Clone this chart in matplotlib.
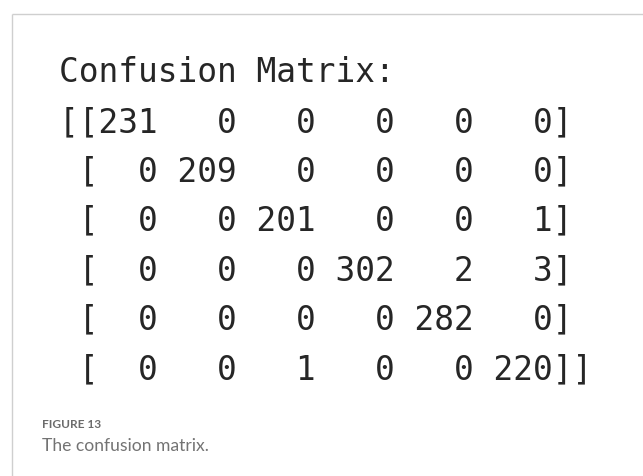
import numpy as np
import matplotlib
matplotlib.use("Agg")
import matplotlib.pyplot as plt

# Confusion matrix values (rows = true class, cols = predicted class)
cm = np.array([
    [231, 0, 0, 0, 0, 0],
    [0, 209, 0, 0, 0, 0],
    [0, 0, 201, 0, 0, 1],
    [0, 0, 0, 302, 2, 3],
    [0, 0, 0, 0, 282, 0],
    [0, 0, 1, 0, 0, 220],
])
heading = "Confusion Matrix:"
fig_label = "FIGURE 13"
caption = "The confusion matrix."

fig = plt.figure(figsize=(6.43, 4.76), dpi=100)
ax = fig.add_axes([0, 0, 1, 1])
ax.set_xlim(0, 643)
ax.set_ylim(476, 0)
ax.axis("off")

# light frame on top and left
ax.plot([11.5, 643], [14, 14], color="#cfcfcf", lw=1.0, solid_capstyle="butt")
ax.plot([11.5, 11.5], [14, 476], color="#cfcfcf", lw=1.0, solid_capstyle="butt")

mono = dict(family="DejaVu Sans Mono", fontsize=23.6, color="#262626", va="baseline", ha="left")

# printed output, like print(cm) in a console
ax.text(59, 82, heading, **mono)
lines = np.array2string(cm).split("\n")
for i, line in enumerate(lines):
    ax.text(59, 132 + i * 49.4, line, **mono)

# caption
ax.text(42, 428, fig_label, family="Lato", fontsize=8.6, fontweight="bold",
        color="#6b6b6b", va="baseline", ha="left")
ax.text(42, 451, caption, family="Lato", fontsize=12.6, fontweight="normal",
        color="#737373", va="baseline", ha="left")

fig.savefig("out.png", dpi=100)
